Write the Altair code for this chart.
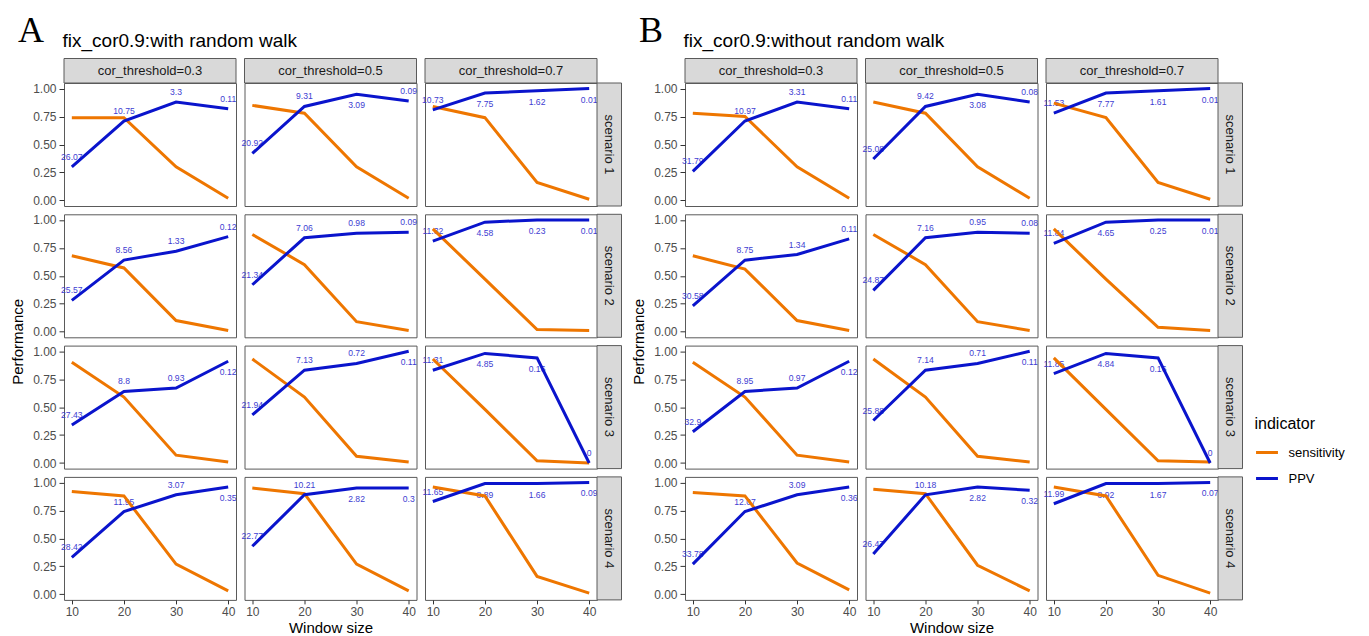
import altair as alt
import pandas as pd

# ---------------- data ----------------
window = [10, 20, 30, 40]
thresholds = ["cor_threshold=0.3", "cor_threshold=0.5", "cor_threshold=0.7"]
scenarios = ["scenario 1", "scenario 2", "scenario 3", "scenario 4"]
indicators = ["sensitivity", "PPV"]

# panel A: with random walk  (rows = scenario, inner lists = threshold 0.3 / 0.5 / 0.7)
sens_rw = [
    [[0.74, 0.74, 0.30, 0.02], [0.85, 0.78, 0.30, 0.02], [0.84, 0.74, 0.16, 0.01]],
    [[0.68, 0.57, 0.10, 0.01], [0.87, 0.60, 0.09, 0.01], [0.92, 0.47, 0.02, 0.01]],
    [[0.90, 0.59, 0.07, 0.01], [0.93, 0.59, 0.06, 0.01], [0.93, 0.48, 0.02, 0.00]],
    [[0.92, 0.88, 0.27, 0.03], [0.95, 0.90, 0.27, 0.03], [0.96, 0.88, 0.16, 0.01]],
]
ppv_rw = [
    [[0.30, 0.71, 0.88, 0.82], [0.42, 0.84, 0.95, 0.89], [0.81, 0.96, 0.98, 1.00]],
    [[0.28, 0.64, 0.72, 0.85], [0.42, 0.84, 0.88, 0.89], [0.81, 0.98, 1.00, 1.00]],
    [[0.34, 0.64, 0.67, 0.91], [0.43, 0.83, 0.89, 1.00], [0.83, 0.98, 0.94, 0.00]],
    [[0.33, 0.74, 0.89, 0.96], [0.43, 0.89, 0.95, 0.95], [0.83, 0.99, 0.99, 1.00]],
]
lab_rw = [
    [["26.07", "10.75", "3.3", "0.11"], ["20.92", "9.31", "3.09", "0.09"], ["10.73", "7.75", "1.62", "0.01"]],
    [["25.57", "8.56", "1.33", "0.12"], ["21.34", "7.06", "0.98", "0.09"], ["11.32", "4.58", "0.23", "0.01"]],
    [["27.43", "8.8", "0.93", "0.12"], ["21.94", "7.13", "0.72", "0.11"], ["11.31", "4.85", "0.16", "0"]],
    [["28.42", "11.95", "3.07", "0.35"], ["22.77", "10.21", "2.82", "0.3"], ["11.65", "8.89", "1.66", "0.09"]],
]

# panel B: without random walk
sens_norw = [
    [[0.78, 0.75, 0.30, 0.02], [0.88, 0.78, 0.30, 0.02], [0.87, 0.74, 0.16, 0.01]],
    [[0.68, 0.56, 0.10, 0.01], [0.87, 0.60, 0.09, 0.01], [0.92, 0.47, 0.04, 0.01]],
    [[0.90, 0.59, 0.07, 0.01], [0.93, 0.59, 0.06, 0.01], [0.94, 0.48, 0.02, 0.01]],
    [[0.91, 0.88, 0.28, 0.04], [0.94, 0.90, 0.26, 0.03], [0.96, 0.88, 0.17, 0.01]],
]
ppv_norw = [
    [[0.26, 0.71, 0.88, 0.82], [0.37, 0.84, 0.95, 0.88], [0.78, 0.96, 0.98, 1.00]],
    [[0.23, 0.64, 0.69, 0.83], [0.37, 0.84, 0.89, 0.88], [0.79, 0.98, 1.00, 1.00]],
    [[0.28, 0.64, 0.67, 0.91], [0.38, 0.83, 0.89, 1.00], [0.80, 0.98, 0.94, 0.00]],
    [[0.27, 0.74, 0.89, 0.96], [0.36, 0.89, 0.96, 0.93], [0.81, 0.99, 0.99, 1.00]],
]
lab_norw = [
    [["31.79", "10.97", "3.31", "0.11"], ["25.08", "9.42", "3.08", "0.08"], ["11.53", "7.77", "1.61", "0.01"]],
    [["30.58", "8.75", "1.34", "0.11"], ["24.87", "7.16", "0.95", "0.08"], ["11.84", "4.65", "0.25", "0.01"]],
    [["32.9", "8.95", "0.97", "0.12"], ["25.88", "7.14", "0.71", "0.11"], ["11.85", "4.84", "0.16", "0"]],
    [["33.78", "12.07", "3.09", "0.36"], ["26.47", "10.18", "2.82", "0.32"], ["11.99", "8.92", "1.67", "0.07"]],
]

panel_letters = ["A", "B"]
panel_titles = ["fix_cor0.9:with random walk", "fix_cor0.9:without random walk"]

# ---------------- style ----------------
FONT = "Liberation Sans"
SERIF = "Liberation Serif"
ORANGE = "#EE7600"
BLUE = "#0A14CC"
LABEL_C = "#3D3DD2"
BORDER = "#5a5a5a"
STRIP = "#D9D9D9"
W, H = 172, 123
STRIP_H = 24.5
STRIP_W = 24.5

legend = alt.Legend(
    title="indicator", orient="none", legendX=1190.5, legendY=333,
    symbolType="stroke", symbolSize=480, symbolStrokeWidth=3,
    titleFontSize=16, labelFontSize=13, titleFontWeight="normal",
    titleFont=FONT, labelFont=FONT, titleColor="#000000", labelColor="#000000",
    rowPadding=6, titlePadding=8, labelOffset=9, padding=0,
)
color = alt.Color("indicator:N", scale=alt.Scale(domain=indicators, range=[ORANGE, BLUE]), legend=legend)


def build_df(sens, ppv, labs):
    rows = []
    for si, sc in enumerate(scenarios):
        for ti, th in enumerate(thresholds):
            for wi, w in enumerate(window):
                rows.append(dict(scenario=sc, threshold=th, window=w, indicator="sensitivity",
                                 value=sens[si][ti][wi], label=""))
                rows.append(dict(scenario=sc, threshold=th, window=w, indicator="PPV",
                                 value=ppv[si][ti][wi], label=labs[si][ti][wi]))
    return pd.DataFrame(rows)


def cell(df, si, ti, pi):
    sc, th = scenarios[si], thresholds[ti]
    sub = df[(df.scenario == sc) & (df.threshold == th)]
    base = alt.Chart(sub)

    if si == 3:
        xaxis = alt.Axis(values=window, labelFontSize=12, labelColor="#4D4D4D", tickColor="#333333",
                         tickSize=4, labelPadding=3, domain=False, grid=False,
                         title="Window size" if ti == 1 else "", titleFontSize=15,
                         titleFontWeight="normal", titleColor="#000000", titlePadding=3)
    else:
        xaxis = None
    x = alt.X("window:Q", scale=alt.Scale(domain=[8.5, 41.5], nice=False, zero=False), axis=xaxis)

    if ti == 0:
        yaxis = alt.Axis(values=[0, 0.25, 0.5, 0.75, 1.0], format=".2f", labelFontSize=12,
                         labelColor="#4D4D4D", tickColor="#333333", tickSize=5, labelPadding=3,
                         domain=False, grid=False,
                         title="Performance" if si == 1 else "", titleFontSize=15,
                         titleFontWeight="normal", titleColor="#000000", titlePadding=7,
                         **({"titleY": 127} if si == 1 else {}))
    else:
        yaxis = None
    y = alt.Y("value:Q", scale=alt.Scale(domain=[-0.05, 1.05], nice=False, zero=False), axis=yaxis)

    ppv_b = base.transform_filter(alt.datum.indicator == "PPV")
    above = ppv_b.transform_filter(alt.datum.value < 0.9).mark_text(
        dy=-10, fontSize=8.6, font=FONT, color=LABEL_C).encode(x=x, y=y, text="label:N")
    below = ppv_b.transform_filter(alt.datum.value >= 0.9).mark_text(
        dy=11, fontSize=8.6, font=FONT, color=LABEL_C).encode(x=x, y=y, text="label:N")
    l_sens = base.transform_filter(alt.datum.indicator == "sensitivity").mark_line(
        strokeWidth=3).encode(x=x, y=y, color=color)
    l_ppv = ppv_b.mark_line(strokeWidth=3).encode(x=x, y=y, color=color)

    layers = [above, below, l_sens, l_ppv]

    if si == 0:
        sdf = pd.DataFrame({"lab": [th]})
        layers.append(alt.Chart(sdf).mark_rect(fill=STRIP, stroke=BORDER, strokeWidth=1).encode(
            x=alt.value(0), x2=alt.value(W), y=alt.value(-STRIP_H), y2=alt.value(0)))
        layers.append(alt.Chart(sdf).mark_text(fontSize=13, font=FONT, color="#1A1A1A").encode(
            text="lab:N", x=alt.value(W / 2), y=alt.value(-STRIP_H / 2)))
    if ti == 2:
        rdf = pd.DataFrame({"lab": [sc]})
        layers.append(alt.Chart(rdf).mark_rect(fill=STRIP, stroke=BORDER, strokeWidth=1).encode(
            x=alt.value(W), x2=alt.value(W + STRIP_W), y=alt.value(0), y2=alt.value(H)))
        layers.append(alt.Chart(rdf).mark_text(fontSize=13, font=FONT, color="#1A1A1A", angle=90).encode(
            text="lab:N", x=alt.value(W + STRIP_W / 2), y=alt.value(H / 2)))
    if si == 0 and ti == 0:
        tdf = pd.DataFrame({"letter": [panel_letters[pi]], "title": [panel_titles[pi]]})
        layers.append(alt.Chart(tdf).mark_text(fontSize=36, font=SERIF, color="#000000",
                                               align="left", baseline="alphabetic").encode(
            text="letter:N", x=alt.value(-46), y=alt.value(-41.5)))
        layers.append(alt.Chart(tdf).mark_text(fontSize=19, font=FONT, color="#000000",
                                               align="left", baseline="alphabetic").encode(
            text="title:N", x=alt.value(-1.5), y=alt.value(-36.5)))

    return alt.layer(*layers).properties(width=W, height=H)


def panel(pi, sens, ppv, labs):
    df = build_df(sens, ppv, labs)
    cells = [cell(df, si, ti, pi) for si in range(4) for ti in range(3)]
    return alt.concat(*cells, columns=3, spacing={"row": 8.3, "column": 8.5}, bounds="flush")


pA = panel(0, sens_rw, ppv_rw, lab_rw)
pB = panel(1, sens_norw, ppv_norw, lab_norw)

chart = alt.hconcat(pA, pB, spacing=8).properties(
    padding={"left": 2, "top": 4, "right": 2, "bottom": 2}
).configure_view(stroke=BORDER, strokeWidth=1).configure_axis(
    labelFont=FONT, titleFont=FONT
).configure_text(font=FONT)

chart.save("out.html", embed_options={"renderer": "svg", "actions": False})
